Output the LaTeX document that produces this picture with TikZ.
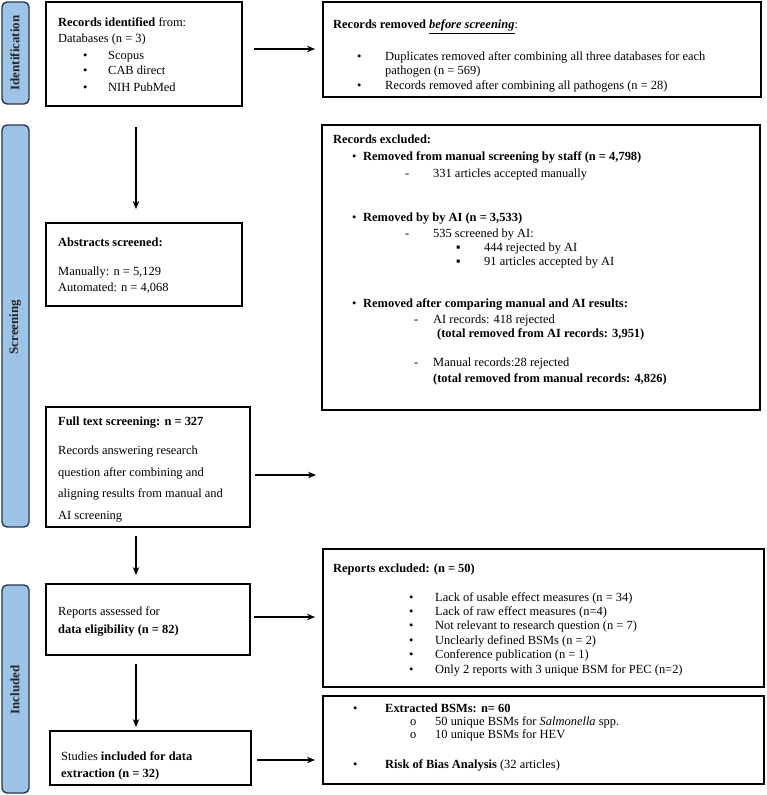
\documentclass[tikz,border=0pt]{standalone}
\usepackage{fontspec}
\setmainfont{Liberation Serif}
\usetikzlibrary{arrows.meta,fit}
\definecolor{barfill}{RGB}{157,195,230}
\definecolor{barline}{RGB}{38,55,85}
\begin{document}
\begin{tikzpicture}[x=1bp,y=-1bp,
  box/.style={draw=black,line width=1.4bp,inner sep=0pt},
  bar/.style={draw=barline,fill=barfill,line width=1.4bp,rounded corners=5bp,inner sep=0pt},
  bartxt/.style={rotate=90,font=\fontsize{13}{15}\selectfont\bfseries,text=black!85,inner sep=0pt},
  txt/.style={anchor=base west,inner sep=0pt,font=\fontsize{12.5}{15}\selectfont},
  arr/.style={line width=1.1bp,-{Stealth[length=8bp,width=6.5bp]}}]
\fill[white] (0,0) rectangle (767,795);
\useasboundingbox (0,0) rectangle (767,795);

% side bars
\node[bar,fit={(2,2) (29,104)}] (barI) {};
\node[bar,fit={(2,125) (29,527)}] (barS) {};
\node[bar,fit={(2,585) (29,793)}] (barN) {};
\node[bartxt] (barIt) at (15,53) {Identification};
\node[bartxt] (barSt) at (15,327) {Screening};
\node[bartxt] (barNt) at (15,690) {Included};

% boxes
\node[box,fit={(46,2) (242,106)}] (b1) {};
\node[box,fit={(323,2) (761,97)}] (b2) {};
\node[box,fit={(322,125) (760,410)}] (b3) {};
\node[box,fit={(46,223) (242,306)}] (b4) {};
\node[box,fit={(46,407) (250,527)}] (b5) {};
\node[box,fit={(46,584) (250,655)}] (b6) {};
\node[box,fit={(50,731) (251,785)}] (b7) {};
\node[box,fit={(323,549) (764,687)}] (b8) {};
\node[box,fit={(323,696) (764,784)}] (b9) {};

% box 1
\node[txt] (b1a) at (58,27) {\textbf{Records identified} from:};
\node[txt] (b1b) at (58,43) {Databases (n = 3)};
\node[txt] (b1c1) at (83,60) {•};
\node[txt] (b1c) at (108,60) {Scopus};
\node[txt] (b1d1) at (83,75) {•};
\node[txt] (b1d) at (108,75) {CAB direct};
\node[txt] (b1e1) at (83,91) {•};
\node[txt] (b1e) at (108,91) {NIH PubMed};

% box 2
\node[txt] (b2a) at (333,29) {\textbf{Records removed \underline{\textit{before screening}}}:};
\node[txt] (b2b1) at (357,61) {•};
\node[txt] (b2b) at (385,61) {Duplicates removed after combining all three databases for each};
\node[txt] (b2c) at (385,75) {pathogen (n = 569)};
\node[txt] (b2d1) at (357,89) {•};
\node[txt] (b2d) at (385,89) {Records removed after combining all pathogens (n = 28)};

% box 3
\node[txt] (b3a) at (333,143) {\textbf{Records excluded:}};
\node[txt] (b3b1) at (352,160) {•};
\node[txt] (b3b) at (363,160) {\textbf{Removed from manual screening by staff (n = 4,798)}};
\node[txt] (b3c1) at (405,177) {-};
\node[txt] (b3c) at (433,177) {331 articles accepted manually};
\node[txt] (b3d1) at (352,221) {•};
\node[txt] (b3d) at (363,221) {\textbf{Removed by by AI (n = 3,533)}};
\node[txt] (b3e1) at (405,237) {-};
\node[txt] (b3e) at (433,237) {535 screened by AI:};
\node[txt] (b3f1) at (456,251) {▪};
\node[txt] (b3f) at (484,251) {444 rejected by AI};
\node[txt] (b3g1) at (456,265) {▪};
\node[txt] (b3g) at (484,265) {91 articles accepted by AI};
\node[txt] (b3h1) at (352,307) {•};
\node[txt] (b3h) at (363,307) {\textbf{Removed after comparing manual and AI results:}};
\node[txt] (b3i1) at (414,323) {-};
\node[txt] (b3i) at (433,323) {AI records: 418 rejected};
\node[txt] (b3j) at (437,337) {\textbf{(total removed from AI records: 3,951)}};
\node[txt] (b3k1) at (414,366) {-};
\node[txt] (b3k) at (433,366) {Manual records:28 rejected};
\node[txt] (b3l) at (433,382) {\textbf{(total removed from manual records: 4,826)}};

% box 4
\node[txt] (b4a) at (58,246) {\textbf{Abstracts screened:}};
\node[txt] (b4b) at (58,275) {Manually: n = 5,129};
\node[txt] (b4c) at (58,291) {Automated: n = 4,068};

% box 5
\node[txt] (b5a) at (58,425) {\textbf{Full text screening: n = 327}};
\node[txt] (b5b) at (58,454) {Records answering research};
\node[txt] (b5c) at (58,476) {question after combining and};
\node[txt] (b5d) at (58,497) {aligning results from manual and};
\node[txt] (b5e) at (58,519) {AI screening};

% box 6
\node[txt] (b6a) at (58,615) {Reports assessed for};
\node[txt] (b6b) at (58,633) {\textbf{data eligibility (n = 82)}};

% box 7
\node[txt] (b7a) at (61,760) {Studies \textbf{included for data}};
\node[txt] (b7b) at (61,777) {\textbf{extraction (n = 32)}};

% box 8
\node[txt] (b8a) at (333,572) {\textbf{Reports excluded: (n = 50)}};
\node[txt] (b8b1) at (409,601) {•};
\node[txt] (b8b) at (435,601) {Lack of usable effect measures (n = 34)};
\node[txt] (b8c1) at (409,615.4) {•};
\node[txt] (b8c) at (435,615.4) {Lack of raw effect measures (n=4)};
\node[txt] (b8d1) at (409,629.8) {•};
\node[txt] (b8d) at (435,629.8) {Not relevant to research question (n = 7)};
\node[txt] (b8e1) at (409,644.2) {•};
\node[txt] (b8e) at (435,644.2) {Unclearly defined BSMs (n = 2)};
\node[txt] (b8f1) at (409,658.6) {•};
\node[txt] (b8f) at (435,658.6) {Conference publication (n = 1)};
\node[txt] (b8g1) at (409,673) {•};
\node[txt] (b8g) at (435,673) {Only 2 reports with 3 unique BSM for PEC (n=2)};

% box 9
\node[txt] (b9a1) at (353,712) {•};
\node[txt] (b9a) at (385,712) {\textbf{Extracted BSMs: n= 60}};
\node[txt] (b9b1) at (410,725) {o};
\node[txt] (b9b) at (435,725) {50 unique BSMs for \textit{Salmonella} spp.};
\node[txt] (b9c1) at (410,738) {o};
\node[txt] (b9c) at (435,738) {10 unique BSMs for HEV};
\node[txt] (b9d1) at (353,768) {•};
\node[txt] (b9d) at (385,768) {\textbf{Risk of Bias Analysis} (32 articles)};

% arrow end points
\coordinate (a1s) at (254,49);  \coordinate (a1e) at (315,49);
\coordinate (a2s) at (136,127); \coordinate (a2e) at (136,209);
\coordinate (a3s) at (255,475); \coordinate (a3e) at (316,475);
\coordinate (a4s) at (136,536); \coordinate (a4e) at (136,575);
\coordinate (a5s) at (254,617); \coordinate (a5e) at (315,617);
\coordinate (a6s) at (136,664); \coordinate (a6e) at (136,727);
\coordinate (a7s) at (257,760); \coordinate (a7e) at (315,760);
\draw[arr] (a1s) -- (a1e);
\draw[arr] (a2s) -- (a2e);
\draw[arr] (a3s) -- (a3e);
\draw[arr] (a4s) -- (a4e);
\draw[arr] (a5s) -- (a5e);
\draw[arr] (a6s) -- (a6e);
\draw[arr] (a7s) -- (a7e);
\end{tikzpicture}
\end{document}
